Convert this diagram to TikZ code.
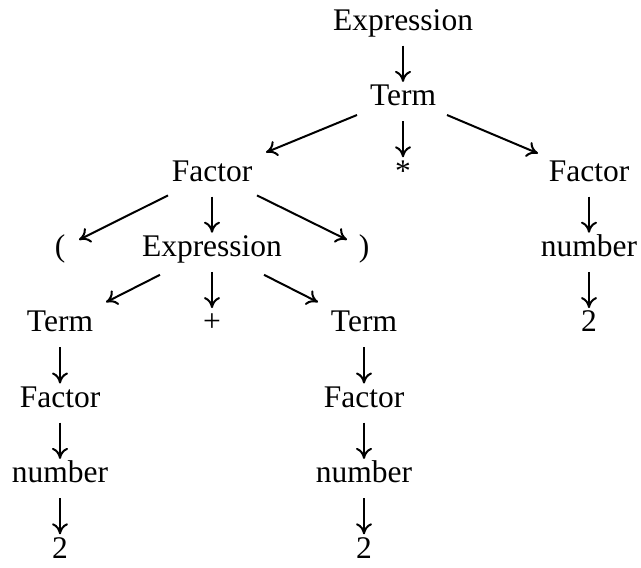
\documentclass[tikz,border=0pt]{standalone}
\usepackage{fontspec}
\setmainfont{Liberation Serif}
\usetikzlibrary{arrows.meta}

\begin{document}
\begin{tikzpicture}[x=0.5pt,y=-0.5pt,line width=1pt,>={To[length=5.5pt,width=8pt]},
  sym/.style={inner sep=0pt,text height=0.69em,text depth=0.22em,
    font=\fontsize{15.75}{18}\selectfont},
  down/.style={->,shorten <=5pt,shorten >=4.5pt}]
\useasboundingbox (0,0) rectangle (641,567);
% ---------- nodes, row by row ----------
\node[sym] (exprTop)  at (403,25.6)  {Expression};
\node[sym] (term)     at (403,101)   {Term};
\node[sym] (factorL)  at (212,176.4) {Factor};
\node[sym] (star)     at (403,176.4) {*};
\node[sym] (factorR)  at (589,176.4) {Factor};
\node[sym] (lparen)   at (60,251.8)  {(};
\node[sym] (exprMid)  at (212,251.8) {Expression};
\node[sym] (rparen)   at (364,251.8) {)};
\node[sym] (numR)     at (589,251.8) {number};
\node[sym] (termL)    at (60,327.2)  {Term};
\node[sym] (plus)     at (212,327.2) {+};
\node[sym] (termR)    at (364,327.2) {Term};
\node[sym] (twoR)     at (589,327.2) {2};
\node[sym] (factorLL) at (60,402.6)  {Factor};
\node[sym] (factorRR) at (364,402.6) {Factor};
\node[sym] (numL)     at (60,478)    {number};
\node[sym] (numM)     at (364,478)   {number};
\node[sym] (twoL)     at (60,553.4)  {2};
\node[sym] (twoM)     at (364,553.4) {2};
% ---------- straight down ----------
\draw[down] (exprTop) -- (term);
\draw[down] (term) -- (star);
\draw[down] (factorL) -- (exprMid);
\draw[down] (exprMid) -- (plus);
\draw[down] (factorR) -- (numR);
\draw[down] (numR) -- (twoR);
\draw[down] (termL) -- (factorLL);
\draw[down] (factorLL) -- (numL);
\draw[down] (numL) -- (twoL);
\draw[down] (termR) -- (factorRR);
\draw[down] (factorRR) -- (numM);
\draw[down] (numM) -- (twoM);
% ---------- slanted ----------
\draw[->] ([shift={(-46,14)}]term.center) -- ([shift={(54,-24)}]factorL.center);
\draw[->] ([shift={(44,14)}]term.center) -- ([shift={(-51,-23)}]factorR.center);
\draw[->] ([shift={(-44,19)}]factorL.center) -- ([shift={(19,-12)}]lparen.center);
\draw[->] ([shift={(45,19)}]factorL.center) -- ([shift={(-17,-12)}]rparen.center);
\draw[->] ([shift={(-52,23)}]exprMid.center) -- ([shift={(46,-25)}]termL.center);
\draw[->] ([shift={(52,23)}]exprMid.center) -- ([shift={(-46,-25)}]termR.center);
\end{tikzpicture}
\end{document}
